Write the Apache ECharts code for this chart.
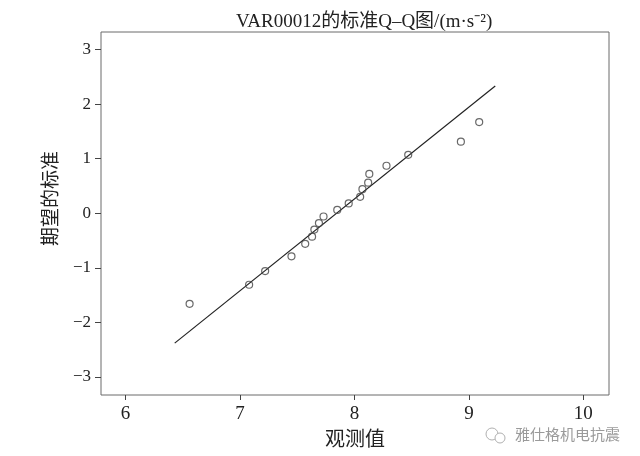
<!DOCTYPE html>
<html>
<head>
<meta charset="utf-8">
<script src="https://cdn.jsdelivr.net/npm/echarts@6/dist/echarts.min.js"></script>
<style>
html,body{margin:0;padding:0;background:#fff;}
#main{width:640px;height:456px;}
</style>
</head>
<body>
<div id="main"></div>
<script>
var observedValues = [6.56, 7.08, 7.22, 7.45, 7.57, 7.63, 7.65, 7.69, 7.73, 7.85, 7.95, 8.05, 8.07, 8.12, 8.13, 8.28, 8.47, 8.93, 9.09];
var expectedNormal = [-1.66, -1.31, -1.06, -0.79, -0.56, -0.43, -0.30, -0.18, -0.06, 0.06, 0.18, 0.30, 0.44, 0.56, 0.72, 0.87, 1.07, 1.31, 1.67];
// Reference line end points
var refLineX = [6.43, 9.23];
var refLineY = [-2.38, 2.33];
// Tick labels
var xTicks = [6, 7, 8, 9, 10];
var yTicks = [-3, -2, -1, 0, 1, 2, 3];

var titleText = 'VAR00012的标准Q\u2013Q图/(m·s\u207B\u00B2)';
var xName = '观测值';
var yName = '期望的标准';
var watermark = '雅仕格机电抗震';

var serif = "'Liberation Serif', 'Noto Sans CJK SC', serif";

var scatterData = observedValues.map(function (v, i) { return [v, expectedNormal[i]]; });
var lineData = refLineX.map(function (v, i) { return [v, refLineY[i]]; });

var chart = echarts.init(document.getElementById('main'), null, {renderer: 'canvas'});
chart.setOption({
  backgroundColor: '#ffffff',
  animation: false,
  title: {
    text: titleText,
    left: 231,
    top: 8,
    textStyle: {fontFamily: serif, fontSize: 19, fontWeight: 'normal', color: '#222'}
  },
  grid: {
    left: 101, right: 31, top: 32, bottom: 58,
    show: true, borderColor: '#6a6a6a', borderWidth: 1, backgroundColor: 'transparent'
  },
  xAxis: {
    type: 'value',
    min: 5.786, max: 10.224,
    name: xName,
    nameLocation: 'middle',
    nameGap: 36,
    nameTextStyle: {fontFamily: serif, fontSize: 20, color: '#222'},
    axisLine: {show: false, onZero: false},
    splitLine: {show: false},
    axisTick: {show: true, customValues: xTicks, length: 5, lineStyle: {color: '#444'}},
    axisLabel: {customValues: xTicks, fontFamily: serif, fontSize: 19, color: '#222', margin: 10}
  },
  yAxis: {
    type: 'value',
    min: -3.33, max: 3.32,
    name: yName,
    nameLocation: 'middle',
    nameGap: 36,
    nameRotate: 90,
    nameTextStyle: {fontFamily: serif, fontSize: 19, color: '#222', padding: [0, 0, 0, 30]},
    axisLine: {show: false, onZero: false},
    splitLine: {show: false},
    axisTick: {show: true, customValues: yTicks, length: 6, lineStyle: {color: '#444'}},
    axisLabel: {
      customValues: yTicks, fontFamily: serif, fontSize: 17, color: '#222', margin: 10,
      formatter: function (v) { return String(v).replace('-', '\u2212'); }
    }
  },
  series: [
    {
      type: 'line',
      data: lineData,
      symbol: 'none',
      lineStyle: {color: '#222', width: 1.2},
      silent: true,
      z: 2
    },
    {
      type: 'scatter',
      data: scatterData,
      symbol: 'circle',
      symbolSize: 7,
      itemStyle: {color: 'rgba(255,255,255,0)', borderColor: '#444', borderWidth: 1.2},
      z: 3
    }
  ],
  graphic: [
    {
      type: 'text',
      right: 20,
      top: 427,
      style: {text: watermark, fontFamily: "'Noto Sans CJK SC', sans-serif", fontSize: 15, fill: '#9a9a9a'}
    },
    {
      type: 'circle',
      shape: {cx: 492, cy: 434, r: 6},
      style: {fill: 'none', stroke: '#b0b0b0', lineWidth: 1}
    },
    {
      type: 'circle',
      shape: {cx: 500, cy: 438, r: 5},
      style: {fill: '#fff', stroke: '#b0b0b0', lineWidth: 1}
    }
  ]
});
</script>
</body>
</html>
